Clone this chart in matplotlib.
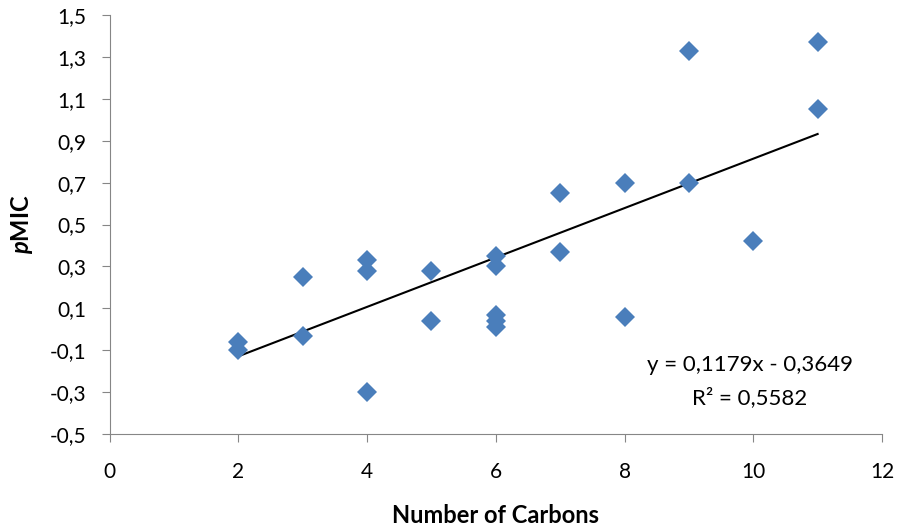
import numpy as np
import matplotlib.pyplot as plt
from matplotlib.ticker import FuncFormatter

# datos
carbons = [2, 2, 3, 3, 4, 4, 4, 5, 5, 6, 6, 6, 6, 6, 7, 7, 8, 8, 9, 9, 10, 11, 11]
pmic = [-0.06, -0.10, 0.25, -0.03, 0.33, 0.28, -0.30, 0.28, 0.04, 0.35, 0.30, 0.07,
        0.04, 0.01, 0.65, 0.37, 0.70, 0.06, 1.33, 0.70, 0.42, 1.37, 1.05]
slope = 0.1179
intercept = -0.3649
r2 = 0.5582

plt.rcParams['font.family'] = ['Lato', 'DejaVu Sans']
plt.rcParams['mathtext.fontset'] = 'custom'
plt.rcParams['mathtext.it'] = 'Lato:italic:bold'
plt.rcParams['mathtext.rm'] = 'Lato:bold'

fig = plt.figure(figsize=(9.06, 5.28), dpi=100)
ax = fig.add_axes([0.1209, 0.178, 0.8526, 0.7936])

ax.plot(carbons, pmic, 'D', color='#4A7EBB', markersize=10, markeredgewidth=0, zorder=3)

# linea de tendencia (ecuacion del grafico)
xl = np.array([min(carbons), max(carbons)], dtype=float)
ax.plot(xl, slope * xl + intercept, color='black', linewidth=1.5, zorder=2)

eq_text = f"y = {slope:.4f}x - {abs(intercept):.4f}".replace('.', ',')
r2_text = f"R² = {r2:.4f}".replace('.', ',')
ax.text(9.95, -0.17, eq_text, ha='center', va='center', fontsize=16)
ax.text(9.95, -0.325, r2_text, ha='center', va='center', fontsize=16)

ax.set_xlim(0, 12)
ax.set_ylim(-0.5, 1.5)
ax.set_xticks(np.arange(0, 13, 2))
ax.set_yticks(np.arange(-0.5, 1.51, 0.2))
ax.yaxis.set_major_formatter(FuncFormatter(lambda v, p: f"{v:.1f}".replace('.', ',')))

for s in ['top', 'right']:
    ax.spines[s].set_visible(False)
for s in ['left', 'bottom']:
    ax.spines[s].set_color('#868686')
ax.tick_params(direction='out', length=6, color='#868686', labelsize=15)
ax.tick_params(axis='y', pad=11)
ax.tick_params(axis='x', pad=14)

ax.set_xlabel("Number of Carbons", fontsize=17, fontweight='bold', labelpad=16)
ax.set_ylabel(r"$\it{p}$MIC", fontsize=17, fontweight='bold', labelpad=10)

fig.savefig("out.png", dpi=100)
